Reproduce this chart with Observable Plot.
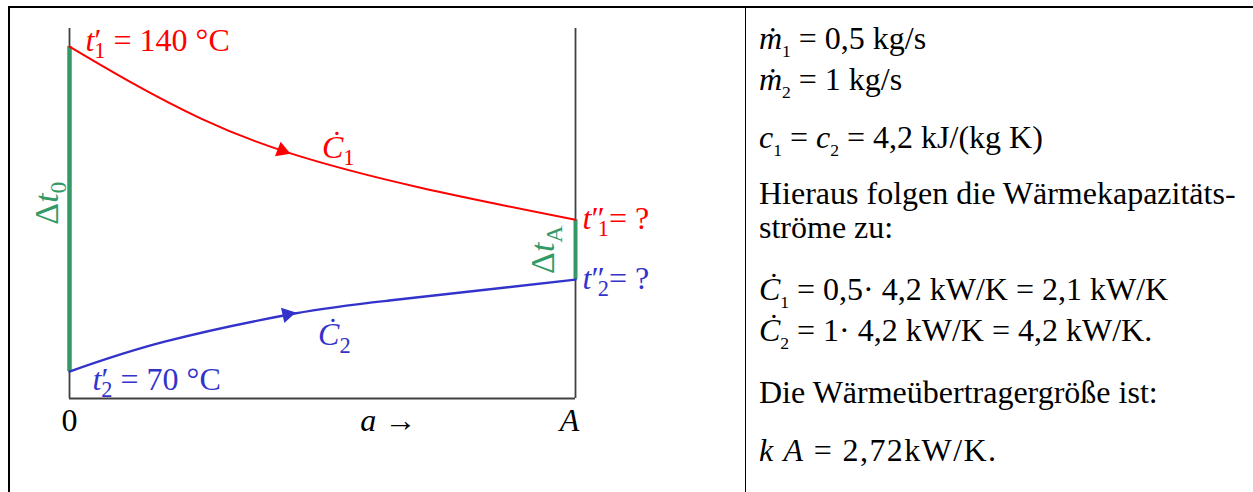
<!DOCTYPE html>
<html>
<head>
<meta charset="utf-8">
<script src="https://cdn.jsdelivr.net/npm/d3@7"></script>
<script src="https://cdn.jsdelivr.net/npm/@observablehq/plot@0.6"></script>
<style>
  html, body { margin: 0; padding: 0; background: #fff; overflow: hidden; width: 1253px; height: 492px; }
  #page { position: relative; width: 1253px; height: 492px; font-family: "Liberation Serif", "Times New Roman", serif; }
  #chart { position: absolute; left: 0; top: 0; width: 745px; height: 492px; }
  .rule { position: absolute; background: #000; z-index: 2; }
  .ln { position: absolute; font-size: 32px; line-height: 32px; white-space: nowrap; color: #000; }
  .ln i { font-style: italic; }
  .ln sub { font-size: 0.55em; vertical-align: baseline; position: relative; top: 0.42em; }
  .ln sub.gap { margin-right: 0.45em; }
  .ln.wide { letter-spacing: 1.4px; }
</style>
</head>
<body>
<div id="page">
  <div id="chart"></div>
  <div id="given"></div>
  <div class="rule" style="left:8px; top:5.5px; width:1245px; height:2.4px;"></div>
  <div class="rule" style="left:7.6px; top:5.5px; width:2.3px; height:487px;"></div>
  <div class="rule" style="left:744.6px; top:5.5px; width:1.8px; height:487px;"></div>
</div>
<script>
// Temperature profiles along the exchange surface (position a / A from 0 to 1, temperatures in °C)
const hotPos   = [0, 0.12, 0.26, 0.437, 0.694, 1];
const hotTemp  = [140, 132.4, 124.5, 117.0, 109.6, 102.7];
const coldPos  = [0, 0.19, 0.445, 0.632, 1];
const coldTemp = [70, 76.5, 82.5, 85.3, 89.8];

// Flow-direction arrowheads on each profile
const arrowPos  = [0.42, 0.43];
const arrowTemp = [117.6, 82.3];

// Axis ticks at the inlet and the outlet
const tickPos    = [0, 1];
const tickLabels = ["0", "<i>A</i>"];

// Given data of the problem
const massFlows     = [0.5, 1];    // kg/s
const specificHeat  = 4.2;         // kJ/(kg K)
const capacityRates = [2.1, 4.2];  // kW/K
const kA = 2.72;                   // kW/K

const RED = "#ff0000", BLUE = "#3333cc", GREEN = "#339966", FRAME = "#404040";

// Plot layout
const W = 745, H = 492, mL = 69, mR = 170, mT = 28, mB = 94;
const yDomain = [64.2, 143.9];

const hot  = hotPos.map((a, i) => ({a, t: hotTemp[i]}));
const cold = coldPos.map((a, i) => ({a, t: coldTemp[i]}));

// direction of a profile on screen at position a, as a rotation for an upward-pointing triangle
function heading(series, a) {
  let k = 0;
  while (k < series.length - 2 && series[k + 1].a < a) k++;
  const p = series[k], q = series[k + 1];
  const dx = (q.a - p.a) * (W - mL - mR);
  const dy = -(q.t - p.t) * (H - mT - mB) / (yDomain[1] - yDomain[0]);
  return Math.atan2(dy, dx) * 180 / Math.PI + 90;
}
const arrows = [
  {a: arrowPos[0], t: arrowTemp[0], color: RED,  rot: heading(hot, arrowPos[0])},
  {a: arrowPos[1], t: arrowTemp[1], color: BLUE, rot: heading(cold, arrowPos[1])}
];

const deltaBars = [
  {a: 0, y1: coldTemp[0], y2: hotTemp[0], w: 4.5},
  {a: 1, y1: coldTemp[coldTemp.length - 1], y2: hotTemp[hotTemp.length - 1], w: 4}
];

const fmt = v => String(v).replace(".", ",");
const tHotIn = hotTemp[0], tColdIn = coldTemp[0];
const tHotOut = hotTemp[hotTemp.length - 1], tColdOut = coldTemp[coldTemp.length - 1];

const textStyle = {fontFamily: "Liberation Serif", fontSize: 32, lineAnchor: "bottom"};

const svg = Plot.plot({
  width: W, height: H,
  marginLeft: mL, marginRight: mR, marginTop: mT, marginBottom: mB,
  style: {background: "transparent", overflow: "visible"},
  x: {domain: [0, 1], axis: null},
  y: {domain: yDomain, axis: null},
  marks: [
    // frame of the diagram: inlet, outlet and the baseline
    Plot.ruleX(tickPos, {stroke: FRAME, strokeWidth: 1.8}),
    Plot.ruleY([yDomain[0]], {stroke: FRAME, strokeWidth: 1.8}),
    // temperature differences at both ends
    Plot.ruleX(deltaBars, {x: "a", y1: "y1", y2: "y2", stroke: GREEN, strokeWidth: "w"}),
    // hot and cold stream
    Plot.line(hot,  {x: "a", y: "t", stroke: RED,  strokeWidth: 2,   curve: "natural"}),
    Plot.line(cold, {x: "a", y: "t", stroke: BLUE, strokeWidth: 2.4, curve: "natural"}),
    Plot.dot(arrows, {x: "a", y: "t", symbol: "triangle", r: 5.8, fill: "color", stroke: null, rotate: "rot"}),
    // stream labels
    Plot.text([{a: 0, t: tHotIn, label: `<i>t</i>′<subt>1</subt> = ${tHotIn} °C`}],
      {x: "a", y: "t", text: "label", fill: RED, textAnchor: "start", dx: 16, dy: 4, ...textStyle}),
    Plot.text([{a: 0, t: tColdIn, label: `<i>t</i>′<subt>2</subt> = ${tColdIn} °C`}],
      {x: "a", y: "t", text: "label", fill: BLUE, textAnchor: "start", dx: 23, dy: 18, ...textStyle}),
    Plot.text([{a: 1, t: tHotOut, label: "<i>t</i>″<subt>1</subt>= ?"}],
      {x: "a", y: "t", text: "label", fill: RED, textAnchor: "start", dx: 7, dy: 9, ...textStyle}),
    Plot.text([{a: 1, t: tColdOut, label: "<i>t</i>″<subt>2</subt>= ?"}],
      {x: "a", y: "t", text: "label", fill: BLUE, textAnchor: "start", dx: 7, dy: 9, ...textStyle}),
    Plot.text([{...arrows[0], label: "<i>Ċ</i><sub>1</sub>"}],
      {x: "a", y: "t", text: "label", fill: RED, textAnchor: "start", dx: 40, dy: 7, ...textStyle}),
    Plot.text([{...arrows[1], label: "<i>Ċ</i><sub>2</sub>"}],
      {x: "a", y: "t", text: "label", fill: BLUE, textAnchor: "start", dx: 31, dy: 31, ...textStyle}),
    // temperature difference labels
    Plot.text([{a: 0, t: (tHotIn + tColdIn) / 2, label: "Δ<i>t</i><sub>0</sub>"}],
      {x: "a", y: "t", text: "label", fill: GREEN, rotate: -90, textAnchor: "middle", dx: -12, dy: -6,
       fontFamily: "Liberation Serif", fontSize: 34, lineAnchor: "bottom"}),
    Plot.text([{a: 1, t: (tHotOut + tColdOut) / 2, label: "Δ<i>t</i><sub>A</sub>"}],
      {x: "a", y: "t", text: "label", fill: GREEN, rotate: -90, textAnchor: "middle", dx: -22, dy: 0,
       fontFamily: "Liberation Serif", fontSize: 34, lineAnchor: "bottom"}),
    // axis
    Plot.text(tickPos.map((a, i) => ({a, label: tickLabels[i], shift: a ? -7 : 0})),
      {x: "a", y: () => yDomain[0], text: "label", fill: "#000", textAnchor: "middle", dy: 32, ...textStyle}),
    Plot.text([{a: 0.63, label: "<i>a</i> →"}],
      {x: "a", y: () => yDomain[0], text: "label", fill: "#000", textAnchor: "middle", dy: 32, ...textStyle})
  ]
});

// turn the small markup (<i>, <sub>, <subt>) in labels into italic / subscript tspans
function richify(root) {
  const ns = "http://www.w3.org/2000/svg";
  root.querySelectorAll("text").forEach(node => {
    const src = node.textContent;
    if (!src.includes("<")) return;
    const g = node.closest("[font-size]");
    const size = g ? parseFloat(g.getAttribute("font-size")) : 32;
    node.textContent = "";
    let italic = false, sub = false, shift = 0, pendingDx = 0;
    for (const part of src.split(/(<\/?(?:i|sub|subt)>)/)) {
      if (!part) continue;
      if (part === "<i>") { italic = true; continue; }
      if (part === "</i>") { italic = false; continue; }
      if (part === "<sub>") { sub = true; continue; }
      if (part === "<subt>") { sub = true; pendingDx = -0.22 * size; continue; }
      if (part === "</sub>" || part === "</subt>") { sub = false; continue; }
      const ts = document.createElementNS(ns, "tspan");
      ts.textContent = part;
      if (italic) ts.setAttribute("font-style", "italic");
      const target = sub ? 0.24 * size : 0;
      if (target !== shift) { ts.setAttribute("dy", target - shift); shift = target; }
      if (sub) ts.setAttribute("font-size", 0.7 * size);
      if (pendingDx) { ts.setAttribute("dx", pendingDx); pendingDx = 0; }
      node.appendChild(ts);
    }
  });
}
richify(svg);
// the italic outlet tick "A" sits a little left of its rule
svg.querySelectorAll("text").forEach(t => { if (t.textContent === "A") t.setAttribute("dx", -6); });
document.getElementById("chart").appendChild(svg);

// given quantities and results, one line each
const givenLines = [
  `<i>ṁ</i><sub class="gap">1</sub>= ${fmt(massFlows[0])} kg/s`,
  `<i>ṁ</i><sub class="gap">2</sub>= ${fmt(massFlows[1])} kg/s`,
  `<i>c</i><sub>1</sub> = <i>c</i><sub>2</sub> = ${fmt(specificHeat)} kJ/(kg K)`,
  `Hieraus folgen die Wärmekapazitäts-`,
  `ströme zu:`,
  `<i>Ċ</i><sub class="gap">1</sub>= ${fmt(massFlows[0])}· ${fmt(specificHeat)} kW/K = ${fmt(capacityRates[0])} kW/K`,
  `<i>Ċ</i><sub class="gap">2</sub>= ${fmt(massFlows[1])}· ${fmt(specificHeat)} kW/K = ${fmt(capacityRates[1])} kW/K.`,
  `Die Wärmeübertragergröße ist:`,
  `<i>k A</i> = ${fmt(kA)}kW/K.`
];
const baselines = [49, 90, 148, 204, 238, 300, 341, 403, 461];
const given = document.getElementById("given");
givenLines.forEach((html, i) => {
  const div = document.createElement("div");
  div.className = i === givenLines.length - 1 ? "ln wide" : "ln";
  div.style.left = "759px";
  div.style.top = (baselines[i] - 26.8) + "px";
  div.innerHTML = html;
  given.appendChild(div);
});
</script>
</body>
</html>
